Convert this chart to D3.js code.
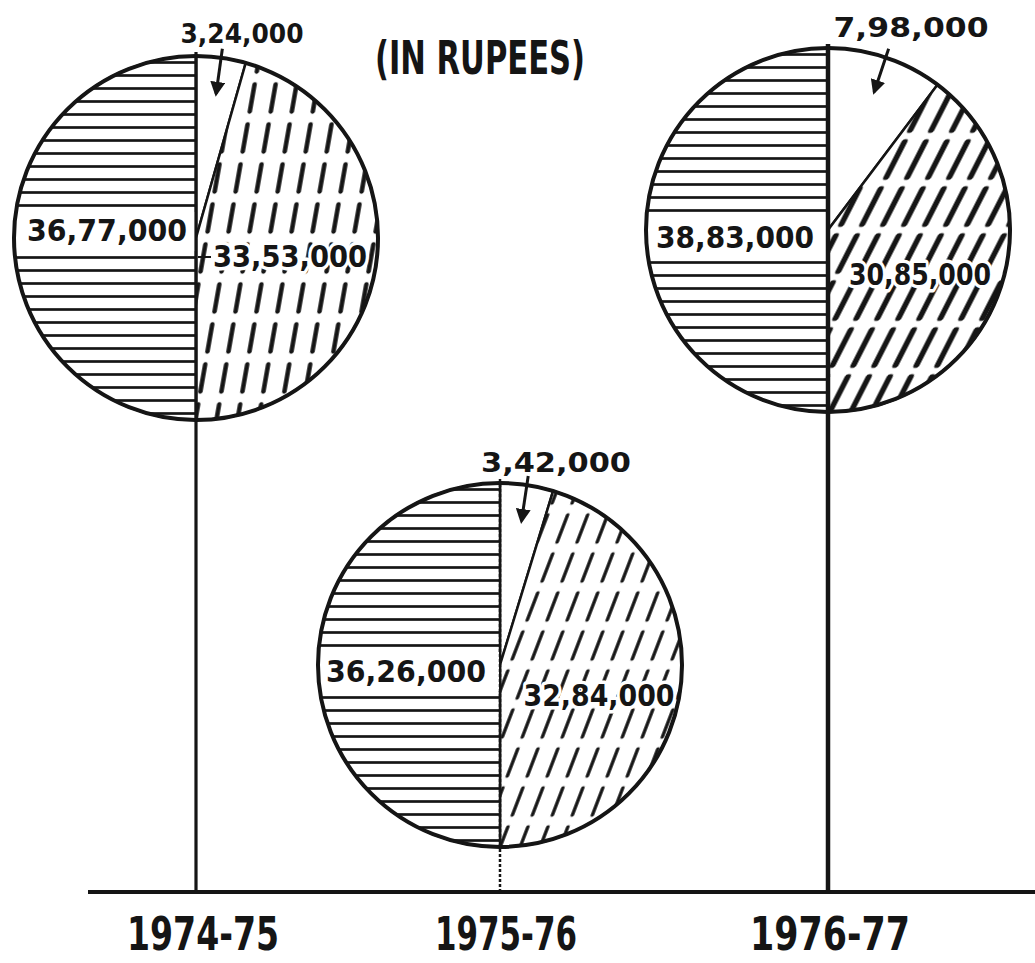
<!DOCTYPE html>
<html>
<head>
<meta charset="utf-8">
<script src="https://cdn.jsdelivr.net/npm/d3@7"></script>
<style>
  body { margin: 0; background: #fff; }
  text { font-family: "DejaVu Sans", sans-serif; font-weight: bold; fill: #151515; }
  text.halo { stroke: #fff; stroke-width: 7px; stroke-linejoin: round; paint-order: stroke; }
</style>
</head>
<body>
<svg id="chart" width="1035" height="963"></svg>
<script>
// values, in rupees
const years = ['1974-75', '1975-76', '1976-77'];
const receipts = [3677000, 3626000, 3883000];     // left half, horizontal hatch
const surplus = [324000, 342000, 798000];         // blank slice, label with arrow
const expenditure = [3353000, 3284000, 3085000];  // dashed hatch
const title = '(IN RUPEES)';

const width = 1035, height = 963;
const radius = 182;
const baseY = 892;
const ink = '#151515';
const hatchGap = 13; // spacing of the horizontal hatch

// pie centres
const xPos = d3.scaleOrdinal().domain(years).range([196, 500, 828]);
const yPos = d3.scaleOrdinal().domain(years).range([238, 665, 230]);

// label offsets from the pie centre: [dx, dy of baseline, text length]
const labelLayout = {
    '1974-75': { top: [46, -195, 123], left: [-89, 3, 160], right: [94, 29, 154] },
    '1975-76': { top: [56, -193, 150], left: [-94, 17, 160], right: [99, 41, 151] },
    '1976-77': { top: [83, -193, 155], left: [-93, 18, 158], right: [92, 55, 142] }
};
// dashed hatch look for each pie: slant (deg), dash length, row pitch, column pitch, stroke
const dashStyle = [
    { slant: 10, len: 27, pitch: 40, col: 21, sw: 4.5 },
    { slant: 21, len: 27, pitch: 39, col: 20, sw: 3.5 },
    { slant: 27, len: 35, pitch: 47, col: 21, sw: 6 }
];
// year labels: centre x and text length
const yearX = d3.scaleOrdinal().domain(years).range([203, 506, 830]);
const yearLen = [152, 142, 160];

// indian digit grouping: 36,77,000
function indian(n) {
    const s = String(n);
    const last3 = s.slice(-3);
    const rest = s.slice(0, -3).replace(/\B(?=(\d{2})+(?!\d))/g, ',');
    return rest ? rest + ',' + last3 : last3;
}

const svg = d3.select('#chart');
svg.append('rect').attr('width', width).attr('height', height).attr('fill', '#fff');
const defs = svg.append('defs');

// horizontal hatch
const hz = defs.append('pattern')
    .attr('id', 'hz')
    .attr('patternUnits', 'userSpaceOnUse')
    .attr('width', 12).attr('height', hatchGap);
hz.append('rect').attr('width', 12).attr('height', hatchGap).attr('fill', '#fff');
hz.append('line')
    .attr('x1', 0).attr('x2', 12).attr('y1', hatchGap / 2).attr('y2', hatchGap / 2)
    .attr('stroke', ink).attr('stroke-width', 2.7);

// slanted dashes, one pattern per pie
dashStyle.forEach((s, i) => {
    const p = defs.append('pattern')
        .attr('id', 'dash' + i)
        .attr('patternUnits', 'userSpaceOnUse')
        .attr('width', s.col).attr('height', s.pitch)
        .attr('patternTransform', `skewX(${-s.slant})`);
    p.append('rect').attr('width', s.col).attr('height', s.pitch).attr('fill', '#fff');
    p.append('line')
        .attr('x1', s.col / 2).attr('x2', s.col / 2)
        .attr('y1', (s.pitch - s.len) / 2).attr('y2', (s.pitch + s.len) / 2)
        .attr('stroke', ink).attr('stroke-width', s.sw).attr('stroke-linecap', 'round');
});

// arrow head
defs.append('marker')
    .attr('id', 'arrow')
    .attr('viewBox', '0 0 10 10')
    .attr('refX', 8).attr('refY', 5)
    .attr('markerWidth', 5).attr('markerHeight', 5)
    .attr('orient', 'auto')
    .append('path')
    .attr('d', 'M0,0 L10,5 L0,10 z')
    .attr('fill', ink);

// baseline
svg.append('line')
    .attr('x1', 88).attr('x2', width)
    .attr('y1', baseY).attr('y2', baseY)
    .attr('stroke', ink).attr('stroke-width', 4);

const pie = d3.pie().sort(null).value((d) => d.value);
const arc = d3.arc().innerRadius(0).outerRadius(radius);

years.forEach((year, i) => {
    const cx = xPos(year), cy = yPos(year);
    const g = svg.append('g').attr('transform', `translate(${cx},${cy})`);
    const slices = pie([
        { key: 'surplus', value: surplus[i] },
        { key: 'expenditure', value: expenditure[i] },
        { key: 'receipts', value: receipts[i] }
    ]);

    g.selectAll('path.slice')
        .data(slices)
        .enter()
        .append('path')
        .attr('class', 'slice')
        .attr('d', arc)
        .attr('fill', (d) => (d.data.key == 'receipts' ? 'url(#hz)' : d.data.key == 'expenditure' ? `url(#dash${i})` : '#fff'))
        .attr('stroke', ink)
        .attr('stroke-width', 2.5);

    // white strip behind the left value, across the whole half and
    // snapped to gaps of the horizontal hatch so no half lines show
    const lay = labelLayout[year];
    const top = hatchGap * Math.floor((lay.left[1] - 19) / hatchGap);
    const bottom = hatchGap * Math.ceil((lay.left[1] + 2) / hatchGap);
    g.append('rect')
        .attr('x', -radius)
        .attr('y', top)
        .attr('width', radius - 1)
        .attr('height', bottom - top)
        .attr('fill', '#fff');

    g.append('circle')
        .attr('r', radius)
        .attr('fill', 'none')
        .attr('stroke', ink)
        .attr('stroke-width', 4);

    // stem down to the baseline
    g.append('line')
        .attr('x1', 0).attr('x2', 0)
        .attr('y1', -radius - 4).attr('y2', baseY - cy)
        .attr('stroke', ink)
        .attr('stroke-width', i == 2 ? 4.5 : i == 1 ? 2.5 : 3.2)
        .attr('stroke-dasharray', i == 1 ? '3,2' : null);

    // arrow into the blank slice
    const mid = (slices[0].startAngle + slices[0].endAngle) / 2;
    g.append('line')
        .attr('x1', radius * 1.05 * Math.sin(mid)).attr('y1', -radius * 1.05 * Math.cos(mid))
        .attr('x2', radius * 0.8 * Math.sin(mid)).attr('y2', -radius * 0.8 * Math.cos(mid))
        .attr('stroke', ink).attr('stroke-width', 3)
        .attr('marker-end', 'url(#arrow)');

    g.append('text')
        .attr('x', lay.top[0]).attr('y', lay.top[1])
        .attr('text-anchor', 'middle')
        .attr('font-size', 27)
        .attr('textLength', lay.top[2]).attr('lengthAdjust', 'spacingAndGlyphs')
        .text(indian(surplus[i]));

    [['left', receipts[i]], ['right', expenditure[i]]].forEach(([side, v]) => {
        g.append('text')
            .attr('class', side == 'right' ? 'halo' : null)
            .attr('x', lay[side][0]).attr('y', lay[side][1])
            .attr('text-anchor', 'middle')
            .attr('font-size', 31)
            .attr('textLength', lay[side][2]).attr('lengthAdjust', 'spacingAndGlyphs')
            .text(indian(v));
    });

    // little leader tick on the first pie
    if (i == 0) {
        g.append('line')
            .attr('x1', 2).attr('x2', lay.right[0] - lay.right[2] / 2 - 2)
            .attr('y1', lay.right[1] - 10).attr('y2', lay.right[1] - 10)
            .attr('stroke', ink).attr('stroke-width', 2);
    }

    svg.append('text')
        .attr('x', yearX(year)).attr('y', 950)
        .attr('text-anchor', 'middle')
        .attr('font-size', 46)
        .attr('textLength', yearLen[i]).attr('lengthAdjust', 'spacingAndGlyphs')
        .text(year);
});

svg.append('text')
    .attr('x', 480).attr('y', 74)
    .attr('text-anchor', 'middle')
    .attr('font-size', 46)
    .attr('textLength', 210).attr('lengthAdjust', 'spacingAndGlyphs')
    .text(title);
</script>
</body>
</html>
